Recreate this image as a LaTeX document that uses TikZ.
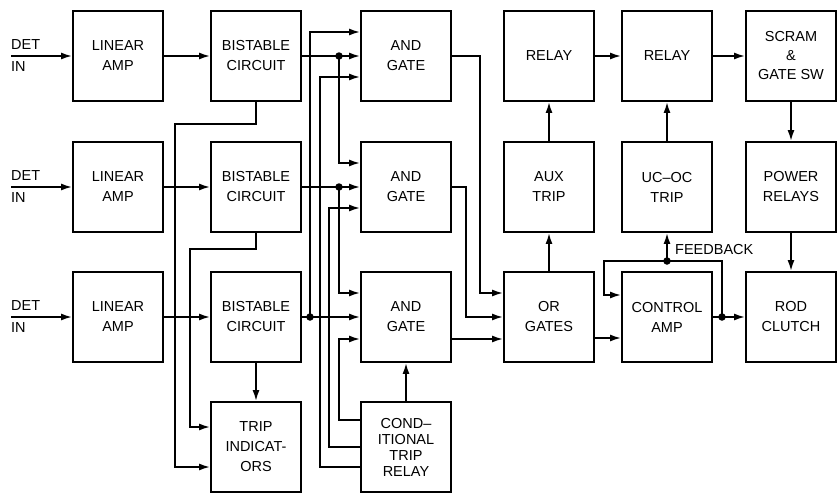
\documentclass[tikz,border=0pt]{standalone}
\usepackage{fontspec}
\setmainfont{Liberation Sans}
\usetikzlibrary{arrows.meta,calc}
\begin{document}
\begin{tikzpicture}[x=1pt,y=-1pt,
  box/.style={draw,line width=1.9pt,minimum width=90pt,minimum height=90pt,align=center,
    font=\fontsize{14.5}{20}\selectfont,inner sep=0pt},
  wire/.style={line width=1.7pt},
  arr/.style={wire,-{Latex[length=11pt,width=7pt]}},
  dot/.style={circle,fill,inner sep=0pt,minimum size=7.5pt},
  lbl/.style={font=\fontsize{14.5}{17}\selectfont,inner sep=0pt}]
\useasboundingbox[fill=white] (0,0) rectangle (840,493);

% column 1: linear amps
\node[box] (la1) at (118,56)  {LINEAR\\AMP};
\node[box] (la2) at (118,187) {LINEAR\\AMP};
\node[box] (la3) at (118,317) {LINEAR\\AMP};
% column 2: bistables and trip indicators
\node[box] (bs1) at (256,56)  {BISTABLE\\CIRCUIT};
\node[box] (bs2) at (256,187) {BISTABLE\\CIRCUIT};
\node[box] (bs3) at (256,317) {BISTABLE\\CIRCUIT};
\node[box] (ti)  at (256,447) {TRIP\\INDICAT-\\ORS};
% column 3: AND gates and conditional trip relay
\node[box] (and1) at (406,56)  {AND\\GATE};
\node[box] (and2) at (406,187) {AND\\GATE};
\node[box] (and3) at (406,317) {AND\\GATE};
\node[box,font=\fontsize{14.5}{16}\selectfont] (ctr) at (406,447) {COND–\\ITIONAL\\TRIP\\RELAY};
% column 4
\node[box] (rl1) at (549,56)  {RELAY};
\node[box] (aux) at (549,187) {AUX\\TRIP};
\node[box] (or)  at (549,317) {OR\\GATES};
% column 5
\node[box] (rl2)  at (667,56)  {RELAY};
\node[box] (ucoc) at (667,187) {UC–OC\\TRIP};
\node[box] (ca)   at (667,317) {CONTROL\\AMP};
% column 6
\node[box,font=\fontsize{14.5}{19}\selectfont] (scr) at (791,56) {SCRAM\\\&\\GATE SW};
\node[box] (pr)  at (791,187) {POWER\\RELAYS};
\node[box] (rod) at (791,317) {ROD\\CLUTCH};

% detector inputs
\foreach \i/\y in {1/56,2/187,3/317}{
  \coordinate (in\i) at (11,\y);
  \node[lbl,anchor=west] (det\i) at (11,\y-11) {DET};
  \node[lbl,anchor=west] (inl\i) at (11,\y+11) {IN};
  \draw[arr] (in\i) -- (la\i.west);
  \draw[arr] (la\i) -- (bs\i);
}

% junction dots
\node[dot] (j1) at (339,56) {};
\node[dot] (j2) at (339,187) {};
\node[dot] (j3) at (310,317) {};
\node[dot] (fb) at (667,261) {};
\node[dot] (jc) at (722,317) {};

% bistable outputs to AND gates
\draw[arr] (bs1.east) -- (and1.west);
\draw[arr] (bs2.east) -- (and2.west);
\draw[arr] (bs3.east) -- (and3.west);
\draw[arr] (j1.center) |- ($(and2.west)+(0,-24)$);
\draw[arr] (j2.center) |- ($(and3.west)+(0,-24)$);
\draw[arr] (j3.center) |- ($(and1.west)+(0,-24)$);

% conditional trip relay to AND gates
\draw[arr] ($(ctr.west)+(0,-27)$) -- ++(-21,0) |- ($(and3.west)+(0,22)$);
\draw[arr] (ctr.west) -- ++(-31,0) |- ($(and2.west)+(0,21)$);
\draw[arr] ($(ctr.west)+(0,20)$) -- ++(-40,0) |- ($(and1.west)+(0,21)$);
\draw[arr] (ctr.north) -- (and3.south);

% bistables to trip indicators
\draw[arr] (bs1.south) -- ++(0,22) -| ($(ti.west)+(-35,20)$) -- ($(ti.west)+(0,20)$);
\draw[arr] (bs2.south) -- ++(0,16) -| ($(ti.west)+(-20,-20)$) -- ($(ti.west)+(0,-20)$);
\draw[arr] (bs3.south) -- (ti.north);

% AND gates to OR gates
\draw[arr] (and1.east) -| ($(or.west)+(-23,-24)$) -- ($(or.west)+(0,-24)$);
\draw[arr] (and2.east) -| ($(or.west)+(-37,0)$) -- (or.west);
\draw[arr] ($(and3.east)+(0,22)$) -- ($(or.west)+(0,22)$);

% right section
\draw[arr] ($(or.east)+(0,21)$) -- ($(ca.west)+(0,21)$);
\draw[arr] (or.north) -- (aux.south);
\draw[arr] (aux.north) -- (rl1.south);
\draw[arr] (rl1) -- (rl2);
\draw[arr] (rl2) -- (scr);
\draw[arr] (ucoc.north) -- (rl2.south);
\draw[arr] (scr.south) -- (pr.north);
\draw[arr] (pr.south) -- (rod.north);

% feedback
\draw[arr] (fb.center) -- (ucoc.south);
\draw[arr] (fb.center) -| ($(ca.west)+(-17,-22)$) -- ($(ca.west)+(0,-22)$);
\draw[wire] (fb.center) -| (jc.center);
\draw[arr] (ca.east) -- (rod.west);
\node[lbl,anchor=west] (fbl) at (675,250) {FEEDBACK};
\end{tikzpicture}
\end{document}
